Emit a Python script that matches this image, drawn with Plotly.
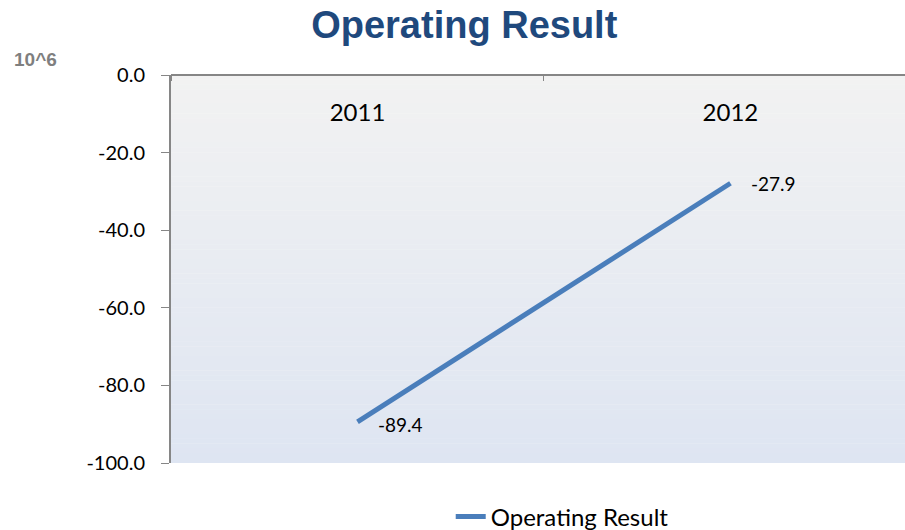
import plotly.graph_objects as go

years = ["2011", "2012"]
operating_result = [-89.4, -27.9]
y_ticks = [0, -20, -40, -60, -80, -100]
y_tick_labels = ["0.0", "-20.0", "-40.0", "-60.0", "-80.0", "-100.0"]
label_offsets_y = [-3, 0]

FONT = "Lato, Open Sans, sans-serif"

fig = go.Figure()

# gradient background for the plot area (stripes in paper coordinates)
top = (242, 242, 242)
bot = (222, 229, 242)
n = 80
shapes = []
for i in range(n):
    t = (i + 0.5) / n
    c = tuple(round(top[k] + (bot[k] - top[k]) * t) for k in range(3))
    shapes.append(dict(type="rect", xref="paper", yref="paper",
                       x0=0, x1=1, y0=1 - (i + 1) / n, y1=1 - i / n + 0.001,
                       fillcolor="rgb(%d,%d,%d)" % c, line=dict(width=0), layer="below"))

fig.add_trace(go.Scatter(
    x=years, y=operating_result, mode="lines", name="Operating Result",
    line=dict(color="#4a7ebb", width=5),
))

# data labels (category axes place annotations by category index)
annotations = []
for idx, (v, dy) in enumerate(zip(operating_result, label_offsets_y)):
    annotations.append(dict(x=idx, y=v, xref="x", yref="y", text="%.1f" % v,
                            showarrow=False, xanchor="left", yanchor="middle",
                            xshift=19, yshift=dy,
                            font=dict(family=FONT, size=19, color="#000000")))
annotations.append(dict(text="<b>10^6</b>", xref="paper", yref="paper", x=-0.185, y=1.039,
                        xanchor="center", yanchor="middle", showarrow=False,
                        font=dict(family="Liberation Sans, Arial, sans-serif", size=19,
                                  color="#7f7f7f")))

fig.update_layout(
    width=905, height=530,
    margin=dict(l=171, r=0, t=75, b=67, autoexpand=False),
    paper_bgcolor="white", plot_bgcolor="rgba(0,0,0,0)",
    shapes=shapes,
    annotations=annotations,
    title=dict(text="<b>Operating Result</b>", x=0.513, xref="container", xanchor="center",
               y=1 - 25 / 530, yref="container", yanchor="middle",
               font=dict(family="Liberation Sans, Arial, sans-serif", size=38, color="#1f497d")),
    showlegend=True,
    legend=dict(orientation="h", x=0.533, xanchor="center", y=-0.139, yanchor="middle",
                font=dict(family=FONT, size=24, color="#000000")),
)

# category axis drawn along the top edge; labels hang below it inside the plot
fig.update_xaxes(
    type="category", anchor="free", position=1, side="bottom", range=[-0.5, 1.468],
    showline=True, linecolor="#868686", linewidth=2,
    ticks="outside", ticklen=5, tickcolor="#868686", tickson="boundaries",
    ticklabelstandoff=16,
    showgrid=False, zeroline=False, automargin=False,
    tickfont=dict(family=FONT, size=24, color="#000000"),
)
fig.update_yaxes(
    range=[-100, 0], tickvals=y_ticks, ticktext=y_tick_labels,
    showline=True, linecolor="#868686", linewidth=2,
    ticks="outside", ticklen=8, tickcolor="#868686",
    showgrid=False, zeroline=False, automargin=False,
    tickfont=dict(family=FONT, size=20, color="#000000"),
    ticklabelstandoff=12,
)

fig.write_html("out.html", config={"displayModeBar": False},
               post_script="document.body.style.margin='0';")
